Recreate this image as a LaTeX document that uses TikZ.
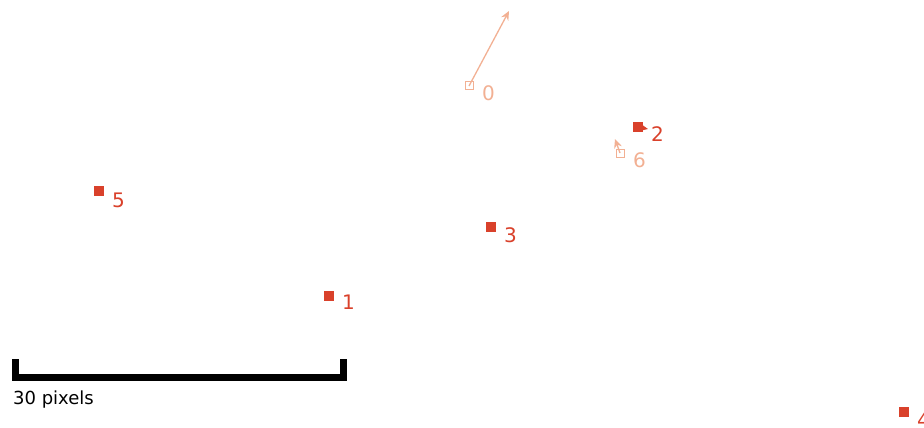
\documentclass[tikz,border=0pt]{standalone}
\usepackage{fontspec}
\setmainfont{DejaVu Sans}
\usetikzlibrary{arrows.meta}
\definecolor{dred}{HTML}{D9412B}
\definecolor{lora}{HTML}{F2B093}
\tikzset{
  x=1pt, y=-1pt,
  part/.style={draw=#1, fill=#1, minimum size=9pt, inner sep=0pt, line width=0.8pt},
  hpart/.style={draw=#1, fill=white, minimum size=8pt, inner sep=0pt, line width=1pt},
  lab/.style={text=#1, font=\fontsize{20}{22}\selectfont, inner sep=0pt, anchor=west},
  vel/.style={draw=#1, line width=1.3pt, -{Stealth[length=9pt,width=8pt]}},
}
\begin{document}
\begin{tikzpicture}
\useasboundingbox (0,0) rectangle (924,428);
% particle 0
\node[hpart=lora] (p0) at (469,86) {};
\coordinate (v0) at (509,11);
\draw[vel=lora] (p0.center) -- (v0);
\node[lab=lora] (l0) at (482,93) {0};
% particle 2
\node[part=dred] (p2) at (638,127) {};
\coordinate (v2) at (648,129);
\draw[vel=dred] (p2.center) -- (v2);
\node[lab=dred] (l2) at (651,134) {2};
% particle 6
\node[hpart=lora] (p6) at (620,153) {};
\coordinate (v6) at (615,139);
\draw[vel=lora] (p6.center) -- (v6);
\node[lab=lora] (l6) at (633,160) {6};
% particle 5
\node[part=dred] (p5) at (99,191) {};
\node[lab=dred] (l5) at (112,200) {5};
% particle 3
\node[part=dred] (p3) at (491,227) {};
\node[lab=dred] (l3) at (504,235) {3};
% particle 1
\node[part=dred] (p1) at (329,296) {};
\node[lab=dred] (l1) at (342,302) {1};
% particle 4
\node[part=dred] (p4) at (904,412) {};
\node[lab=dred] (l4) at (917,420) {4};
% scale bar
\draw[line width=7pt, line cap=butt] (15,359) -- (15,377.5) -- (343,377.5) -- (343,359);
\node[font=\fontsize{18}{20}\selectfont, anchor=west, inner sep=0pt] (sb) at (13,400) {30 pixels};
\end{tikzpicture}
\end{document}
